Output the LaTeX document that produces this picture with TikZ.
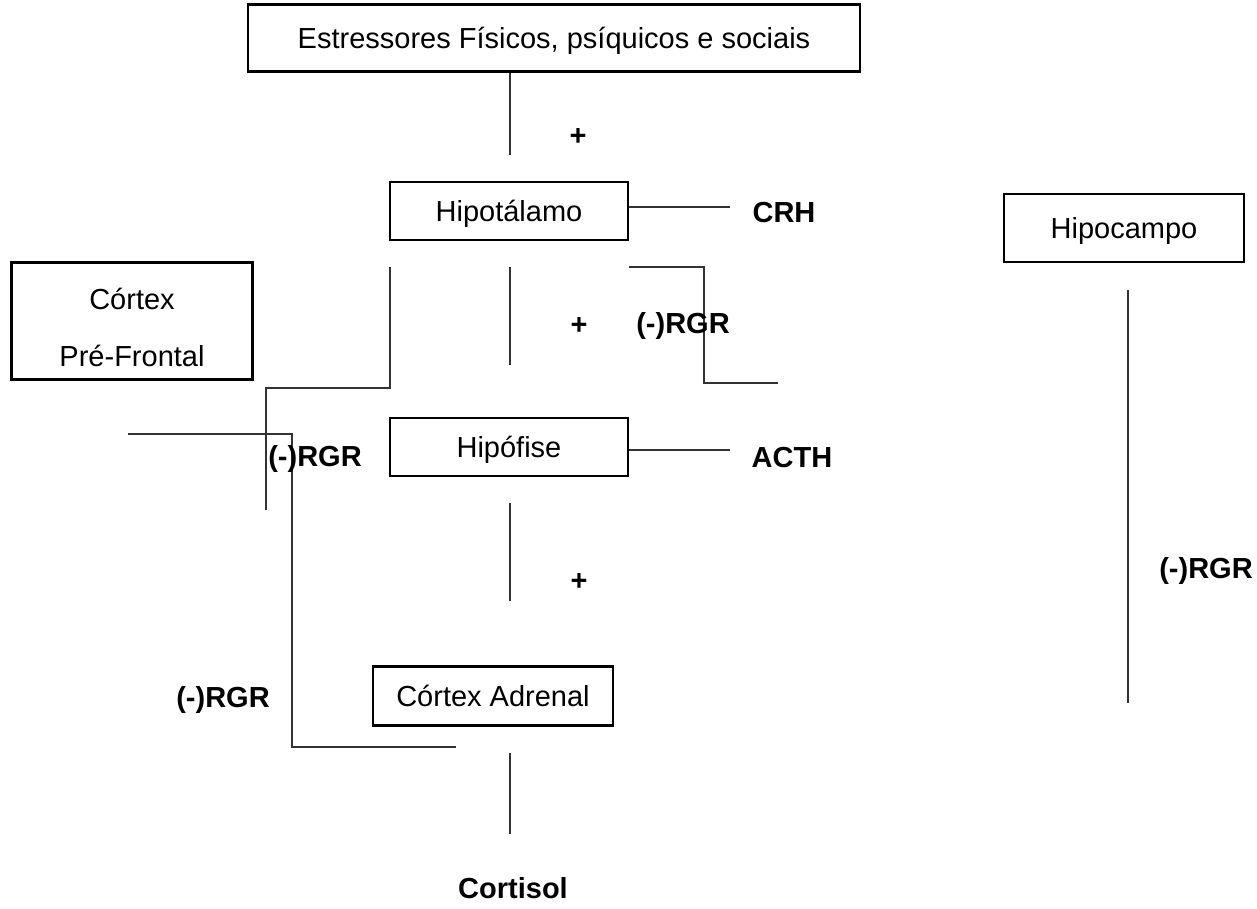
\documentclass[tikz,border=0pt]{standalone}
\usepackage{fontspec}
\setmainfont{Liberation Sans}
\usetikzlibrary{positioning}

\begin{document}
\begin{tikzpicture}[x=1pt,y=-1pt,
	caixa/.style={draw,line width=2.3pt,inner sep=0pt,align=center,text height=20.8pt,text depth=0pt,font=\fontsize{29}{34}\selectfont},
	rotulo/.style={inner sep=0pt,text height=20.8pt,text depth=0pt,font=\fontsize{29}{34}\selectfont\bfseries},
	linha/.style={line width=1.1pt,black!80}]
			\useasboundingbox (0,0) rectangle (1257,908);
			
			% caixas
			\node[caixa,minimum width=612pt,minimum height=67pt] (estressores) at (554,38) {Estressores Físicos, psíquicos e sociais};
			\node[caixa,minimum width=238pt,minimum height=58pt] (hipotalamo) at (509,211) {Hipotálamo};
			\node[caixa,minimum width=240pt,minimum height=68pt] (hipocampo) at (1124,228) {Hipocampo};
			\node[draw,line width=2.3pt,inner sep=0pt,align=center,minimum width=241pt,minimum height=117pt,font=\fontsize{29}{57}\selectfont] (prefrontal) at (132,321) {\rule{0pt}{34pt}Córtex\\Pré-Frontal};
			\node[caixa,minimum width=238pt,minimum height=58pt] (hipofise) at (509,447) {Hipófise};
			\node[caixa,minimum width=240pt,minimum height=59pt] (adrenal) at (493,696) {Córtex Adrenal};
			
			% pontos soltos
			\coordinate (e1) at (510,155);
			\coordinate (e2a) at (510,267);
			\coordinate (e2b) at (510,365);
			\coordinate (e3a) at (510,503);
			\coordinate (e3b) at (510,601);
			\coordinate (e4a) at (510,753);
			\coordinate (e4b) at (510,834);
			\coordinate (crhfim) at (730,207);
			\coordinate (acthfim) at (730,450);
			\coordinate (ra) at (629,267);
			\coordinate (rb) at (704,383);
			\coordinate (rc) at (778,383);
			\coordinate (la) at (390,267);
			\coordinate (lb) at (266,388);
			\coordinate (lc) at (266,510);
			\coordinate (ma) at (128,434);
			\coordinate (mb) at (292,747);
			\coordinate (mc) at (456,747);
			\coordinate (ha) at (1128,290);
			\coordinate (hb) at (1128,703);
			
			% linhas
			\draw[linha] (e1 |- estressores.south) -- (e1);
			\draw[linha] (e2a) -- (e2b);
			\draw[linha] (e3a) -- (e3b);
			\draw[linha] (e4a) -- (e4b);
			\draw[linha] (hipotalamo.east |- crhfim) -- (crhfim);
			\draw[linha] (hipofise.east |- acthfim) -- (acthfim);
			\draw[linha] (ra) -| (rb) -- (rc);
			\draw[linha] (la) |- (lb) -- (lc);
			\draw[linha] (ma) -| (mb) -- (mc);
			\draw[linha] (ha) -- (hb);
			
			% rotulos
			\node[rotulo] (mais1) at (578,135) {+};
			\node[rotulo] (mais2) at (579,324) {+};
			\node[rotulo] (mais3) at (579,580) {+};
			\node[rotulo] (crh) at (784,212) {CRH};
			\node[rotulo] (acth) at (792,457) {ACTH};
			\node[rotulo] (rgr1) at (683,323) {(-)RGR};
			\node[rotulo] (rgr2) at (315,456) {(-)RGR};
			\node[rotulo] (rgr3) at (223,697) {(-)RGR};
			\node[rotulo] (rgr4) at (1206,568) {(-)RGR};
			\node[rotulo] (cortisol) at (513,888) {Cortisol};
		\end{tikzpicture}
\end{document}
